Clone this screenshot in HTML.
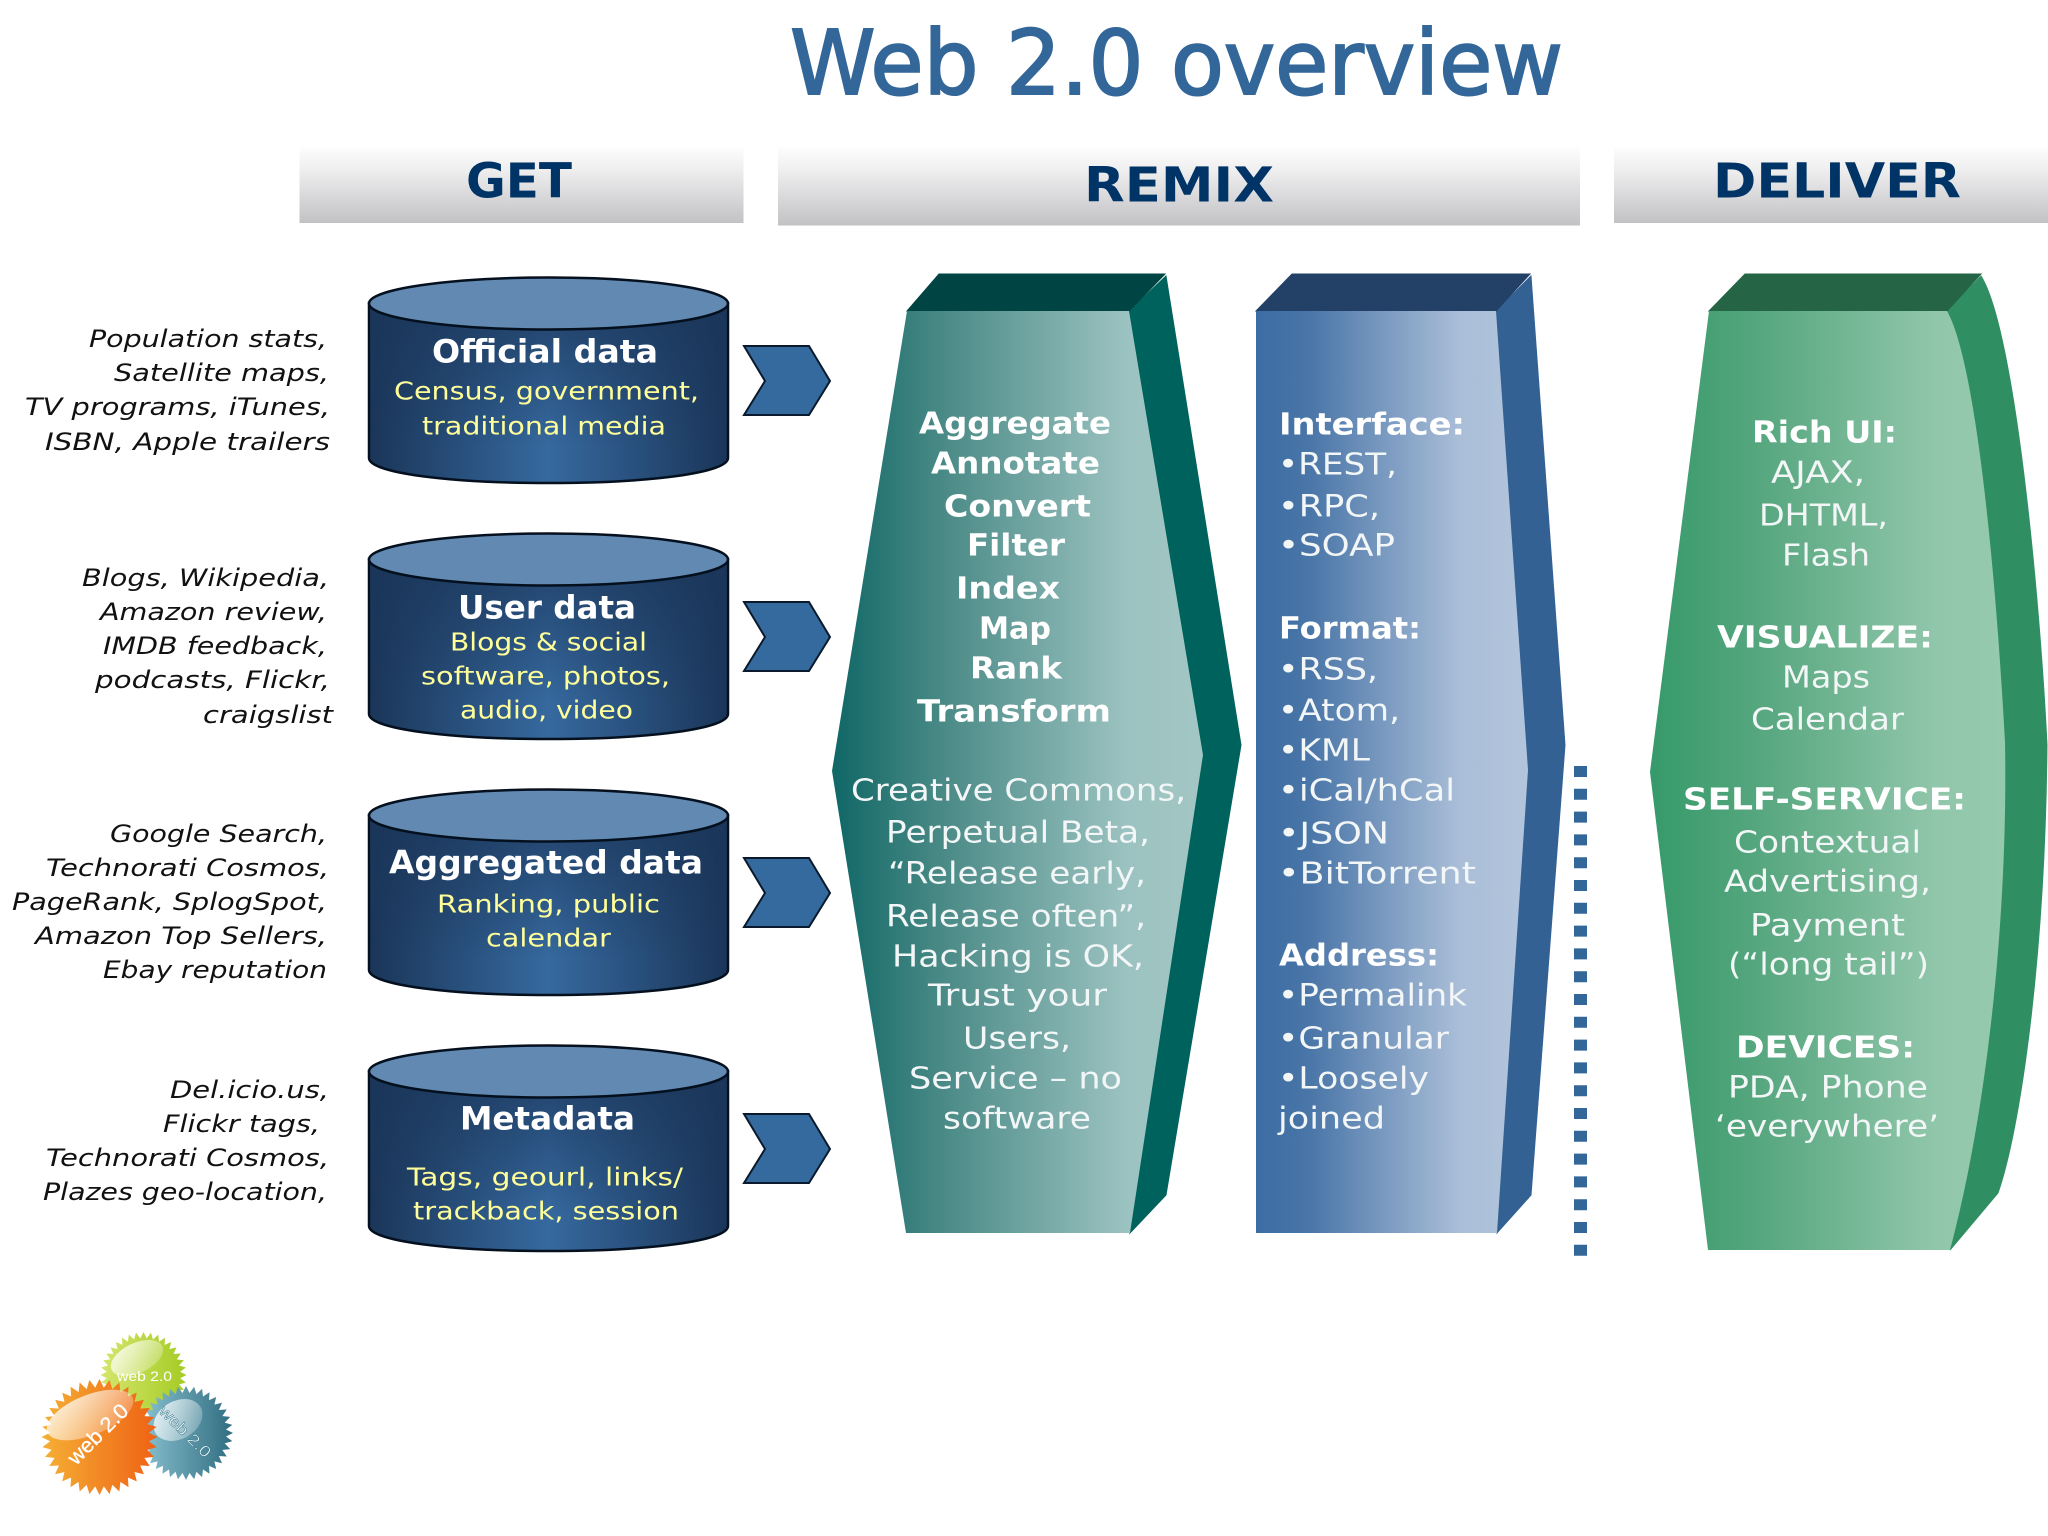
<!DOCTYPE html>
<html><head><meta charset="utf-8"><title>Web 2.0 overview</title>
<style>
html,body{margin:0;padding:0;background:#fff;width:2048px;height:1536px;overflow:hidden}
svg{display:block}
text{font-family:"DejaVu Sans","Liberation Sans",sans-serif}
.h{font-weight:bold;font-size:48px;fill:#003366}
.l{font-style:italic;font-size:24px;fill:#111}
.t{font-weight:bold;font-size:32px;fill:#fff}
.y{font-size:25px;fill:#ffff99}
.b{font-weight:bold;font-size:30px;fill:#fff}
.r{font-size:30px;fill:#f2f6f6}
text.t,text.y,text.b,text.r,text.h{transform:translateY(-1.3px)}
</style></head><body>
<svg width="2048" height="1536" viewBox="0 0 2048 1536" xmlns="http://www.w3.org/2000/svg">
<defs>
<linearGradient id="bar" x1="0" y1="0" x2="0" y2="1"><stop offset="0" stop-color="#fefefe"/><stop offset=".3" stop-color="#efeff0"/><stop offset="1" stop-color="#c2c2c5"/></linearGradient>
<linearGradient id="cyl" x1="0" y1="0" x2="1" y2="0"><stop offset="0" stop-color="#1a3558"/><stop offset=".5" stop-color="#36699f"/><stop offset="1" stop-color="#1a3558"/></linearGradient>
<linearGradient id="cyv" x1="0" y1="0" x2="0" y2="1"><stop offset="0" stop-color="#1a3558" stop-opacity=".75"/><stop offset=".8" stop-color="#1a3558" stop-opacity="0"/></linearGradient>
<linearGradient id="teal" x1="0" y1="0" x2="1" y2="0"><stop offset="0" stop-color="#0f6766"/><stop offset=".3" stop-color="#4a8a86"/><stop offset=".8" stop-color="#9cc3c1"/><stop offset="1" stop-color="#a2c6c4"/></linearGradient>
<linearGradient id="blue" x1="0" y1="0" x2="1" y2="0"><stop offset="0" stop-color="#3b6ca3"/><stop offset=".2" stop-color="#4a76a8"/><stop offset=".75" stop-color="#aabed8"/><stop offset="1" stop-color="#b2c5dc"/></linearGradient>
<linearGradient id="green" x1="0" y1="0" x2="1" y2="0"><stop offset="0" stop-color="#369a69"/><stop offset=".3" stop-color="#55a67e"/><stop offset=".8" stop-color="#90c6aa"/><stop offset="1" stop-color="#96caae"/></linearGradient>
<g id="cy">
<path d="M369,303 V458 C369,473 449,483 549,483 C649,483 728,473 728,458 V303 Z" fill="url(#cyl)" stroke="#05101e" stroke-width="2.5"/>
<path d="M370,303 V458 C370,472 449,482 549,482 C649,482 727,472 727,458 V303 Z" fill="url(#cyv)"/>
<ellipse cx="548.500" cy="303.500" rx="179.500" ry="26" fill="#6289b1" stroke="#05101e" stroke-width="2.5"/>
</g>
<polygon id="ch" points="744,346 809,346 830,381 809,415 744,415 765,381" fill="#356a9f" stroke="#0a1a2c" stroke-width="2"/>
<g id="s1"><polygon points="-8,-84 8,-84 0,-100" fill="#fff"/><polygon points="-8,-84 8,-84 0,-100" fill="#fff" transform="rotate(10)"/><polygon points="-8,-84 8,-84 0,-100" fill="#fff" transform="rotate(20)"/></g>
<g id="s2"><use href="#s1"/><use href="#s1" transform="rotate(30)"/><use href="#s1" transform="rotate(60)"/></g>
<g id="star"><circle r="85" fill="#fff"/><use href="#s2"/><use href="#s2" transform="rotate(90)"/><use href="#s2" transform="rotate(180)"/><use href="#s2" transform="rotate(270)"/></g>
<mask id="m1" maskUnits="userSpaceOnUse" x="0" y="1300" width="300" height="236"><use href="#star" transform="translate(99.500,1437) scale(.58)"/></mask>
<mask id="m2" maskUnits="userSpaceOnUse" x="0" y="1300" width="300" height="236"><use href="#star" transform="translate(143.500,1375) scale(.43)"/></mask>
<mask id="m3" maskUnits="userSpaceOnUse" x="0" y="1300" width="300" height="236"><use href="#star" transform="translate(186,1433) scale(.47)"/></mask>
<linearGradient id="og" x1="0" y1="0" x2="1" y2="0"><stop offset="0" stop-color="#f5b035"/><stop offset="1" stop-color="#ef6114"/></linearGradient>
<linearGradient id="gg" x1="0" y1="0" x2="1" y2="0"><stop offset="0" stop-color="#d6e66e"/><stop offset="1" stop-color="#a3cb23"/></linearGradient>
<linearGradient id="tg" x1="0" y1="0" x2="1" y2="0"><stop offset="0" stop-color="#8cc4d2"/><stop offset="1" stop-color="#2f6c80"/></linearGradient>
<linearGradient id="hl" x1="0" y1="0" x2="1" y2="1"><stop offset="0" stop-color="#fff" stop-opacity=".85"/><stop offset="1" stop-color="#fff" stop-opacity=".15"/></linearGradient>
</defs>

<text x="790" y="94" font-size="89" fill="#336699" stroke="#336699" stroke-width="2" textLength="773" lengthAdjust="spacingAndGlyphs">Web 2.0 overview</text>

<rect x="299.500" y="146" width="444" height="77" fill="url(#bar)"/>
<rect x="778" y="146" width="802" height="79.500" fill="url(#bar)"/>
<rect x="1614" y="146" width="434" height="77" fill="url(#bar)"/>
<text class="h" x="466" y="199" textLength="106" lengthAdjust="spacingAndGlyphs">GET</text>
<text class="h" x="1084" y="203" textLength="190" lengthAdjust="spacingAndGlyphs">REMIX</text>
<text class="h" x="1713" y="199" textLength="248" lengthAdjust="spacingAndGlyphs">DELIVER</text>

<use href="#cy"/><use href="#cy" y="256"/><use href="#cy" y="512"/><use href="#cy" y="768"/>
<use href="#ch"/><use href="#ch" y="256"/><use href="#ch" y="512"/><use href="#ch" y="768"/>

<text class="l" x="89" y="347" textLength="238" lengthAdjust="spacingAndGlyphs">Population stats,</text>
<text class="l" x="114" y="381" textLength="215" lengthAdjust="spacingAndGlyphs">Satellite maps,</text>
<text class="l" x="25" y="415" textLength="305" lengthAdjust="spacingAndGlyphs">TV programs, iTunes,</text>
<text class="l" x="45" y="450" textLength="285" lengthAdjust="spacingAndGlyphs">ISBN, Apple trailers</text>
<text class="l" x="82" y="586" textLength="247" lengthAdjust="spacingAndGlyphs">Blogs, Wikipedia,</text>
<text class="l" x="100" y="620" textLength="227" lengthAdjust="spacingAndGlyphs">Amazon review,</text>
<text class="l" x="103" y="654" textLength="224" lengthAdjust="spacingAndGlyphs">IMDB feedback,</text>
<text class="l" x="95" y="688" textLength="235" lengthAdjust="spacingAndGlyphs">podcasts, Flickr,</text>
<text class="l" x="203" y="723" textLength="130" lengthAdjust="spacingAndGlyphs">craigslist</text>
<text class="l" x="110" y="842" textLength="217" lengthAdjust="spacingAndGlyphs">Google Search,</text>
<text class="l" x="46" y="876" textLength="283" lengthAdjust="spacingAndGlyphs">Technorati Cosmos,</text>
<text class="l" x="12" y="910" textLength="315" lengthAdjust="spacingAndGlyphs">PageRank, SplogSpot,</text>
<text class="l" x="35" y="944" textLength="292" lengthAdjust="spacingAndGlyphs">Amazon Top Sellers,</text>
<text class="l" x="103" y="978" textLength="224" lengthAdjust="spacingAndGlyphs">Ebay reputation</text>
<text class="l" x="170" y="1098" textLength="159" lengthAdjust="spacingAndGlyphs">Del.icio.us,</text>
<text class="l" x="163" y="1132" textLength="157" lengthAdjust="spacingAndGlyphs">Flickr tags,</text>
<text class="l" x="46" y="1166" textLength="283" lengthAdjust="spacingAndGlyphs">Technorati Cosmos,</text>
<text class="l" x="43" y="1200" textLength="284" lengthAdjust="spacingAndGlyphs">Plazes geo-location,</text>

<text class="t" x="432" y="364" textLength="226" lengthAdjust="spacingAndGlyphs">Official data</text>
<text class="y" x="394" y="401" textLength="305" lengthAdjust="spacingAndGlyphs">Census, government,</text>
<text class="y" x="422" y="436" textLength="244" lengthAdjust="spacingAndGlyphs">traditional media</text>
<text class="t" x="458" y="620" textLength="178" lengthAdjust="spacingAndGlyphs">User data</text>
<text class="y" x="450" y="652" textLength="197" lengthAdjust="spacingAndGlyphs">Blogs &amp; social</text>
<text class="y" x="421" y="686" textLength="249" lengthAdjust="spacingAndGlyphs">software, photos,</text>
<text class="y" x="460" y="720" textLength="173" lengthAdjust="spacingAndGlyphs">audio, video</text>
<text class="t" x="389" y="875" textLength="314" lengthAdjust="spacingAndGlyphs">Aggregated data</text>
<text class="y" x="437" y="914" textLength="223" lengthAdjust="spacingAndGlyphs">Ranking, public</text>
<text class="y" x="486" y="948" textLength="125" lengthAdjust="spacingAndGlyphs">calendar</text>
<text class="t" x="460" y="1131" textLength="175" lengthAdjust="spacingAndGlyphs">Metadata</text>
<text class="y" x="407" y="1187" textLength="276" lengthAdjust="spacingAndGlyphs">Tags, geourl, links/</text>
<text class="y" x="413" y="1221" textLength="266" lengthAdjust="spacingAndGlyphs">trackback, session</text>

<!-- teal -->
<polygon points="1129,311 1166,276 1241,745 1166,1195 1130,1233 1203,755" fill="#00625c" stroke="#00625c" stroke-width="1"/>
<polygon points="907,311 939,274 1165,274 1129,311" fill="#004543" stroke="#004543" stroke-width="1"/>
<polygon points="907,311 1129,311 1203,755 1130,1233 906,1233 832,771" fill="url(#teal)"/>
<text class="b" x="919" y="435" textLength="192" lengthAdjust="spacingAndGlyphs">Aggregate</text>
<text class="b" x="931" y="475" textLength="169" lengthAdjust="spacingAndGlyphs">Annotate</text>
<text class="b" x="944" y="518" textLength="147" lengthAdjust="spacingAndGlyphs">Convert</text>
<text class="b" x="967" y="557" textLength="98" lengthAdjust="spacingAndGlyphs">Filter</text>
<text class="b" x="956" y="600" textLength="104" lengthAdjust="spacingAndGlyphs">Index</text>
<text class="b" x="979" y="640" textLength="72" lengthAdjust="spacingAndGlyphs">Map</text>
<text class="b" x="970" y="680" textLength="92" lengthAdjust="spacingAndGlyphs">Rank</text>
<text class="b" x="917" y="723" textLength="194" lengthAdjust="spacingAndGlyphs">Transform</text>
<text class="r" x="851" y="802" textLength="335" lengthAdjust="spacingAndGlyphs">Creative Commons,</text>
<text class="r" x="886" y="844" textLength="264" lengthAdjust="spacingAndGlyphs">Perpetual Beta,</text>
<text class="r" x="888" y="885" textLength="258" lengthAdjust="spacingAndGlyphs">“Release early,</text>
<text class="r" x="886" y="928" textLength="260" lengthAdjust="spacingAndGlyphs">Release often”,</text>
<text class="r" x="892" y="968" textLength="252" lengthAdjust="spacingAndGlyphs">Hacking is OK,</text>
<text class="r" x="928" y="1007" textLength="179" lengthAdjust="spacingAndGlyphs">Trust your</text>
<text class="r" x="963" y="1050" textLength="108" lengthAdjust="spacingAndGlyphs">Users,</text>
<text class="r" x="909" y="1090" textLength="213" lengthAdjust="spacingAndGlyphs">Service – no</text>
<text class="r" x="943" y="1130" textLength="148" lengthAdjust="spacingAndGlyphs">software</text>

<!-- blue -->
<polygon points="1496,311 1531,276 1565,745 1531,1195 1497,1233 1528,770" fill="#336193" stroke="#336193" stroke-width="1"/>
<polygon points="1256,311 1292,274 1530,274 1496,311" fill="#234066" stroke="#234066" stroke-width="1"/>
<polygon points="1256,311 1496,311 1528,770 1497,1233 1256,1233" fill="url(#blue)"/>
<text class="b" x="1279" y="436" textLength="186" lengthAdjust="spacingAndGlyphs">Interface:</text>
<text class="r" x="1278" y="476" textLength="119" lengthAdjust="spacingAndGlyphs">•REST,</text>
<text class="r" x="1278" y="518" textLength="102" lengthAdjust="spacingAndGlyphs">•RPC,</text>
<text class="r" x="1278" y="557" textLength="117" lengthAdjust="spacingAndGlyphs">•SOAP</text>
<text class="b" x="1279" y="640" textLength="142" lengthAdjust="spacingAndGlyphs">Format:</text>
<text class="r" x="1278" y="681" textLength="100" lengthAdjust="spacingAndGlyphs">•RSS,</text>
<text class="r" x="1278" y="722" textLength="122" lengthAdjust="spacingAndGlyphs">•Atom,</text>
<text class="r" x="1278" y="762" textLength="92" lengthAdjust="spacingAndGlyphs">•KML</text>
<text class="r" x="1278" y="802" textLength="177" lengthAdjust="spacingAndGlyphs">•iCal/hCal</text>
<text class="r" x="1278" y="845" textLength="111" lengthAdjust="spacingAndGlyphs">•JSON</text>
<text class="r" x="1278" y="885" textLength="198" lengthAdjust="spacingAndGlyphs">•BitTorrent</text>
<text class="b" x="1279" y="967" textLength="160" lengthAdjust="spacingAndGlyphs">Address:</text>
<text class="r" x="1278" y="1007" textLength="189" lengthAdjust="spacingAndGlyphs">•Permalink</text>
<text class="r" x="1278" y="1050" textLength="171" lengthAdjust="spacingAndGlyphs">•Granular</text>
<text class="r" x="1278" y="1090" textLength="151" lengthAdjust="spacingAndGlyphs">•Loosely</text>
<text class="r" x="1278" y="1130" textLength="107" lengthAdjust="spacingAndGlyphs">joined</text>

<!-- dotted separator -->
<line x1="1580.500" y1="766" x2="1580.500" y2="1257" stroke="#336699" stroke-width="13" stroke-dasharray="11 11.800"/>

<!-- green -->
<path d="M1947,311 L1981,276 C2015,330 2040,600 2047,745 C2045,960 2020,1130 1998,1193 L1950,1250 C1990,1100 2008,900 2005,742 C1995,560 1975,360 1947,311 Z" fill="#308f62" stroke="#308f62" stroke-width="1"/>
<polygon points="1709,311 1745,274 1981,274 1947,311" fill="#256546" stroke="#256546" stroke-width="1"/>
<path d="M1709,311 L1947,311 C1975,360 1995,560 2005,742 C2008,900 1990,1100 1950,1250 L1708,1250 L1650,772 Z" fill="url(#green)"/>
<text class="b" x="1752" y="444" textLength="145" lengthAdjust="spacingAndGlyphs">Rich UI:</text>
<text class="r" x="1771" y="484" textLength="94" lengthAdjust="spacingAndGlyphs">AJAX,</text>
<text class="r" x="1759" y="527" textLength="129" lengthAdjust="spacingAndGlyphs">DHTML,</text>
<text class="r" x="1782" y="567" textLength="88" lengthAdjust="spacingAndGlyphs">Flash</text>
<text class="b" x="1717" y="649" textLength="216" lengthAdjust="spacingAndGlyphs">VISUALIZE:</text>
<text class="r" x="1782" y="689" textLength="88" lengthAdjust="spacingAndGlyphs">Maps</text>
<text class="r" x="1751" y="731" textLength="153" lengthAdjust="spacingAndGlyphs">Calendar</text>
<text class="b" x="1683" y="811" textLength="283" lengthAdjust="spacingAndGlyphs">SELF-SERVICE:</text>
<text class="r" x="1734" y="854" textLength="187" lengthAdjust="spacingAndGlyphs">Contextual</text>
<text class="r" x="1724" y="893" textLength="207" lengthAdjust="spacingAndGlyphs">Advertising,</text>
<text class="r" x="1750" y="937" textLength="155" lengthAdjust="spacingAndGlyphs">Payment</text>
<text class="r" x="1728" y="976" textLength="201" lengthAdjust="spacingAndGlyphs">(“long tail”)</text>
<text class="b" x="1736" y="1059" textLength="179" lengthAdjust="spacingAndGlyphs">DEVICES:</text>
<text class="r" x="1728" y="1099" textLength="200" lengthAdjust="spacingAndGlyphs">PDA, Phone</text>
<text class="r" x="1715" y="1138" textLength="224" lengthAdjust="spacingAndGlyphs">‘everywhere’</text>

<!-- logo -->
<rect x="100" y="1331" width="88" height="88" fill="url(#gg)" mask="url(#m2)"/>
<ellipse cx="137" cy="1358" rx="28" ry="15" fill="url(#hl)" transform="rotate(-25 137 1358)"/>
<text x="117" y="1381" font-size="14" fill="#fff" style="font-family:'Liberation Sans',sans-serif" textLength="55" lengthAdjust="spacingAndGlyphs">web 2.0</text>
<rect x="138" y="1385" width="96" height="96" fill="url(#tg)" mask="url(#m3)"/>
<ellipse cx="178" cy="1420" rx="26" ry="19" fill="url(#hl)" transform="rotate(-30 178 1420)"/>
<text x="0" y="0" font-size="16" fill="#e8f6fa" stroke="#2f6c80" stroke-width=".4" style="font-family:'Liberation Sans',sans-serif" transform="translate(158,1412) rotate(45)" textLength="66" lengthAdjust="spacingAndGlyphs">web 2.0</text>
<rect x="41" y="1378" width="117" height="118" fill="url(#og)" mask="url(#m1)"/>
<ellipse cx="90" cy="1415" rx="46" ry="20" fill="url(#hl)" transform="rotate(-22 90 1415)"/>
<text x="0" y="0" font-size="21" fill="#fff" stroke="#fff" stroke-width=".3" style="font-family:'Liberation Sans',sans-serif" transform="translate(76,1466) rotate(-45)" textLength="76" lengthAdjust="spacingAndGlyphs">web 2.0</text>
</svg>
</body></html>
